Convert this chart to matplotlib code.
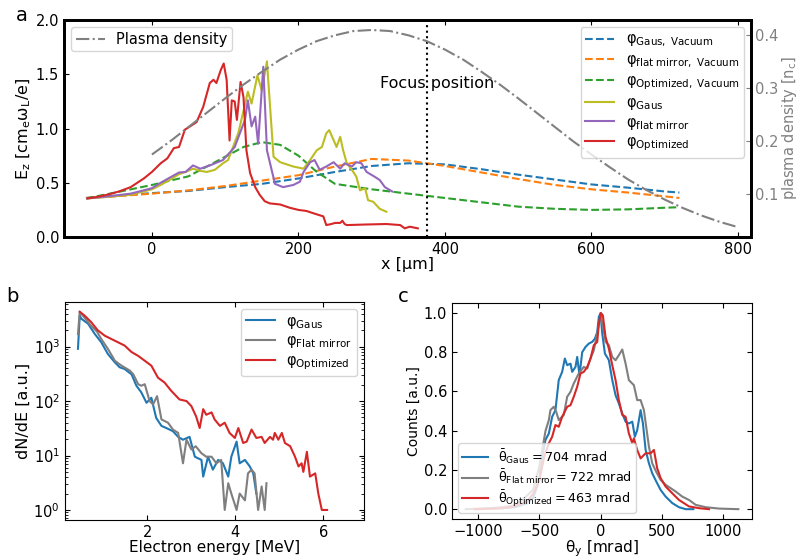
import numpy as np
import matplotlib.pyplot as plt

plt.rcParams['font.size'] = 10
plt.rcParams['mathtext.default'] = 'regular'

# ---------- panel a data ----------
dens_x = [0, 25, 50, 75, 100, 125, 150, 175, 200, 225, 250, 275, 300, 325, 350, 375, 400,
          425, 450, 475, 500, 525, 550, 575, 600, 625, 650, 675, 700, 725, 750, 775, 800]
dens_y = [0.175, 0.200, 0.227, 0.254, 0.281, 0.307, 0.331, 0.354, 0.373, 0.389, 0.400, 0.408, 0.410,
          0.408, 0.400, 0.389, 0.373, 0.354, 0.331, 0.307, 0.281, 0.254, 0.227, 0.200, 0.175,
          0.151, 0.128, 0.108, 0.090, 0.074, 0.060, 0.048, 0.038]

vac_x = [-90, -50, 0, 50, 100, 150, 200, 250, 300, 350, 400, 450, 500, 550, 600, 650, 700, 720]
gaus_vac = [0.36, 0.38, 0.405, 0.425, 0.46, 0.49, 0.54, 0.60, 0.655, 0.68, 0.67, 0.625, 0.575,
            0.53, 0.485, 0.455, 0.42, 0.41]
flat_vac = [0.36, 0.375, 0.40, 0.43, 0.47, 0.52, 0.57, 0.65, 0.72, 0.705, 0.655, 0.595, 0.535,
            0.48, 0.44, 0.41, 0.375, 0.36]
opt_vac_x = [-90, -50, 0, 50, 100, 125, 150, 175, 200, 225, 250, 300, 350, 400, 450, 500, 550,
             600, 650, 700, 720]
opt_vac = [0.356, 0.41, 0.48, 0.56, 0.74, 0.83, 0.875, 0.85, 0.75, 0.60, 0.49, 0.44, 0.40,
           0.36, 0.32, 0.28, 0.26, 0.25, 0.255, 0.27, 0.275]

gaus_x = [-88, -60, -29, 0, 12, 25, 37, 46, 56, 66, 75, 86, 97, 104, 118, 131, 136, 144, 150, 157,
          166, 175, 193, 207, 216, 225, 232, 238, 242, 248, 252, 257, 261, 266, 273, 279, 284,
          291, 295, 302, 311, 320]
gaus_y = [0.356, 0.37, 0.39, 0.44, 0.48, 0.53, 0.58, 0.60, 0.63, 0.61, 0.60, 0.62, 0.68, 0.71,
          0.96, 1.34, 1.23, 1.49, 1.35, 1.62, 0.74, 0.69, 0.65, 0.63, 0.71, 0.80, 0.83, 0.956,
          0.986, 0.894, 0.83, 0.924, 0.80, 0.68, 0.62, 0.556, 0.43, 0.45, 0.34, 0.325, 0.26, 0.233]

flat_x = [-88, -60, -29, 0, 12, 25, 37, 46, 56, 66, 79, 97, 113, 127, 131, 136, 141, 145, 152,
          157, 168, 179, 193, 202, 207, 216, 222, 229, 238, 248, 257, 263, 273, 279, 286, 293,
          304, 311, 318, 328]
flat_y = [0.356, 0.375, 0.40, 0.45, 0.50, 0.55, 0.595, 0.60, 0.66, 0.63, 0.66, 0.71, 0.83, 1.08,
          1.26, 1.02, 1.11, 0.86, 1.57, 0.80, 0.49, 0.46, 0.48, 0.51, 0.60, 0.69, 0.71, 0.62,
          0.65, 0.69, 0.63, 0.68, 0.65, 0.69, 0.68, 0.60, 0.556, 0.525, 0.46, 0.42]

opt_x = [-88, -75, -61, -45, -29, -11, 0, 12, 21, 30, 37, 45, 52, 61, 70, 79, 84, 88, 94, 98,
         102, 106, 109, 113, 116, 121, 125, 129, 134, 141, 147, 154, 161, 175, 188, 200, 211,
         220, 234, 238, 245, 250, 257, 260, 263, 266, 290, 320, 339, 345, 352, 363]
opt_y = [0.356, 0.37, 0.39, 0.42, 0.46, 0.54, 0.60, 0.68, 0.725, 0.82, 0.83, 0.99, 1.02, 1.06,
         1.20, 1.42, 1.45, 1.42, 1.54, 1.60, 1.45, 0.89, 1.26, 1.25, 1.08, 1.43, 1.29, 0.80,
         0.59, 0.46, 0.39, 0.33, 0.31, 0.30, 0.27, 0.25, 0.24, 0.22, 0.19, 0.11, 0.12, 0.13,
         0.13, 0.15, 0.12, 0.11, 0.115, 0.12, 0.11, 0.08, 0.095, 0.08]

focus_x = 375

# ---------- panel b data ----------
eb_gaus = [0.42, 0.46, 0.50, 0.65, 0.80, 0.95, 1.10, 1.26, 1.37, 1.48, 1.64, 1.75, 1.86, 1.98,
           2.09, 2.20, 2.32, 2.43, 2.58, 2.70, 2.81, 2.96, 3.08, 3.23, 3.27, 3.38, 3.49, 3.61,
           3.72, 3.84, 3.91, 4.03, 4.10, 4.22, 4.33, 4.41, 4.48]
dn_gaus = [912, 3715, 3236, 2630, 1718, 1202, 733, 513, 417, 389, 309, 191, 145, 93, 115, 49,
           35, 32, 28, 22, 19.5, 22, 9.5, 8.3, 4.1, 9.5, 5.5, 8.3, 7.2, 4.1, 9.5, 18, 7.2, 8.3,
           6.3, 4.7, 2.0]
eb_flat = [0.42, 0.46, 0.55, 0.70, 0.85, 0.95, 1.10, 1.26, 1.41, 1.60, 1.68, 1.79, 1.86, 1.94,
           2.05, 2.13, 2.22, 2.32, 2.47, 2.58, 2.70, 2.81, 2.89, 3.00, 3.10, 3.23, 3.34, 3.46,
           3.57, 3.68, 3.76, 3.84, 3.91, 4.03, 4.10, 4.22, 4.29, 4.37, 4.44, 4.52, 4.60, 4.67, 4.71]
dn_flat = [1700, 4365, 3550, 2510, 1900, 1380, 912, 550, 447, 363, 309, 204, 191, 204, 100, 87,
           123, 46, 40, 30, 26, 7.2, 19.5, 12.9, 14.8, 11, 9.5, 9.5, 7.2, 8.3, 1, 3.1, 2, 1, 2,
           1.5, 4.7, 5.5, 4.7, 1, 2.7, 1, 3.1]
eb_opt = [0.46, 0.57, 0.72, 0.87, 1.03, 1.18, 1.33, 1.48, 1.64, 1.79, 1.94, 2.09, 2.24, 2.39,
          2.54, 2.73, 2.89, 3.00, 3.11, 3.19, 3.27, 3.34, 3.46, 3.53, 3.65, 3.76, 3.87, 3.99,
          4.07, 4.18, 4.26, 4.37, 4.48, 4.60, 4.67, 4.79, 4.86, 4.90, 4.98, 5.06, 5.13, 5.25,
          5.36, 5.44, 5.51, 5.55, 5.63, 5.70, 5.82, 5.89, 5.97, 6.09]
dn_opt = [4365, 3715, 2820, 1995, 1585, 1380, 1202, 1047, 794, 676, 550, 447, 269, 219, 155,
          107, 100, 81, 52, 32, 71, 56, 62, 46, 35, 40, 26, 21, 32, 17, 18, 30, 21, 22, 17, 22,
          19.5, 26, 19.5, 26, 17, 14.8, 9.5, 6.3, 7.2, 5, 11.7, 4.1, 4.7, 2, 1, 1]

# ---------- panel c data ----------
th_gaus = [-1000, -800, -700, -600, -550, -500, -492, -451, -423, -396, -369, -342, -314, -292,
           -273, -246, -232, -205, -191, -172, -150, -123, -96, -68, -46, -27, -14, 0, 14, 36,
           68, 96, 123, 150, 178, 205, 232, 260, 281, 300, 328, 347, 369, 396, 423, 456, 492,
           533, 587, 642, 697, 760]
c_gaus = [0, 0.005, 0.01, 0.03, 0.06, 0.15, 0.217, 0.353, 0.386, 0.471, 0.505, 0.658, 0.70,
          0.768, 0.734, 0.742, 0.70, 0.725, 0.776, 0.683, 0.80, 0.827, 0.844, 0.853, 0.869,
          0.903, 0.98, 1.0, 0.895, 0.793, 0.76, 0.658, 0.581, 0.539, 0.488, 0.446, 0.437,
          0.446, 0.369, 0.403, 0.505, 0.437, 0.302, 0.234, 0.183, 0.141, 0.098, 0.064, 0.031,
          0.01, 0.0, 0.0]
th_flat = [-1104, -900, -800, -700, -650, -600, -550, -500, -450, -423, -410, -383, -363, -342,
           -301, -273, -246, -219, -178, -137, -109, -82, -55, -27, 0, 19, 41, 68, 96, 123,
           150, 178, 205, 232, 273, 300, 328, 355, 396, 423, 456, 492, 533, 574, 615, 669,
           724, 779, 861, 970, 1128]
c_flat = [0, 0.005, 0.01, 0.02, 0.04, 0.07, 0.10, 0.22, 0.40, 0.454, 0.505, 0.522, 0.497,
          0.454, 0.48, 0.573, 0.598, 0.641, 0.692, 0.725, 0.717, 0.768, 0.81, 0.895, 0.988,
          0.937, 0.853, 0.836, 0.776, 0.759, 0.785, 0.814, 0.742, 0.658, 0.632, 0.556, 0.556,
          0.505, 0.319, 0.234, 0.19, 0.149, 0.124, 0.107, 0.09, 0.064, 0.047, 0.022, 0.01,
          0.003, 0.0]
th_opt = [-1030, -800, -700, -600, -550, -500, -460, -423, -396, -369, -342, -314, -273, -246,
          -219, -191, -164, -137, -109, -82, -55, -27, -14, 3, 19, 41, 68, 96, 123, 150, 178,
          205, 232, 260, 273, 300, 328, 369, 410, 437, 464, 492, 533, 587, 642, 724, 806, 888]
c_opt = [0, 0.005, 0.015, 0.04, 0.08, 0.15, 0.27, 0.336, 0.369, 0.429, 0.42, 0.471, 0.522,
         0.53, 0.573, 0.624, 0.692, 0.70, 0.725, 0.768, 0.836, 0.853, 0.946, 1.0, 0.988, 0.878,
         0.819, 0.734, 0.658, 0.556, 0.48, 0.471, 0.386, 0.336, 0.361, 0.302, 0.259, 0.285,
         0.285, 0.302, 0.208, 0.158, 0.115, 0.081, 0.047, 0.014, 0.005, 0.0]

fig = plt.figure(figsize=(8, 5.59), dpi=100)

# ---------- panel a ----------
ax = fig.add_axes([0.08, 0.576, 0.859, 0.388])
l1, = ax.plot(vac_x, gaus_vac, '--', color='C0', lw=1.5, label=r'φ$_{Gaus,\ Vacuum}$')
l2, = ax.plot(vac_x, flat_vac, '--', color='C1', lw=1.5, label=r'φ$_{flat\ mirror,\ Vacuum}$')
l3, = ax.plot(opt_vac_x, opt_vac, '--', color='C2', lw=1.5, label=r'φ$_{Optimized,\ Vacuum}$')
l4, = ax.plot(gaus_x, gaus_y, color='#bcbd22', lw=1.5, label=r'φ$_{Gaus}$')
l5, = ax.plot(flat_x, flat_y, color='C4', lw=1.5, label=r'φ$_{flat\ mirror}$')
l6, = ax.plot(opt_x, opt_y, color='C3', lw=1.5, label=r'φ$_{Optimized}$')
ax.axvline(focus_x, color='k', ls=':', lw=1.5)
ax.text(311, 1.42, 'Focus position', fontsize=11.5, va='center')
ax.set_xlim(-120, 818)
ax.set_ylim(0, 2)
ax.set_xticks([0, 200, 400, 600, 800])
ax.set_yticks([0, 0.5, 1.0, 1.5, 2.0])
ax.set_xlabel('x [µm]', fontsize=11.5, labelpad=0)
ax.set_ylabel(r'E$_z$ [cm$_e$ω$_L$/e]', fontsize=11.5, labelpad=2)
ax.tick_params(direction='in', top=True, right=False, labelsize=10.5)
for s in ax.spines.values():
    s.set_linewidth(2)

ax2 = ax.twinx()
lp, = ax2.plot(dens_x, dens_y, '-.', color='0.5', lw=1.5, label='Plasma density')
ax2.set_ylabel(r'plasma density [n$_c$]', color='0.5', fontsize=10.5, labelpad=1)
ax2.set_yticks([0.1, 0.2, 0.3, 0.4])
ax2.tick_params(direction='in', colors='0.5', labelsize=10.5, pad=3)
for s in ax2.spines.values():
    s.set_linewidth(2)
leg1 = ax2.legend(handles=[lp], loc='upper left', fontsize=10.5, borderpad=0.3)
ax2.add_artist(leg1)
ax2.legend(handles=[l1, l2, l3, l4, l5, l6], loc='upper right', fontsize=10.5,
           labelspacing=0.2, borderpad=0.3)

# ---------- panel b ----------
axb = fig.add_axes([0.081, 0.070, 0.374, 0.390])
axb.plot(eb_gaus, dn_gaus, color='C0', lw=1.5, label=r'φ$_{Gaus}$')
axb.plot(eb_flat, dn_flat, color='C7', lw=1.5, label=r'φ$_{Flat\ mirror}$')
axb.plot(eb_opt, dn_opt, color='C3', lw=1.5, label=r'φ$_{Optimized}$')
axb.set_yscale('log')
axb.set_xlim(0.12, 6.93)
axb.set_xticks([2, 4, 6])
axb.set_xlabel('Electron energy [MeV]', fontsize=11, labelpad=0)
axb.set_ylabel('dN/dE [a.u.]', fontsize=11.5, labelpad=2)
axb.tick_params(which='both', direction='in', top=True, right=True, labelsize=10.5)
axb.legend(loc='upper right', fontsize=10.5, labelspacing=0.2, borderpad=0.3)

# ---------- panel c ----------
axc = fig.add_axes([0.565, 0.0716, 0.375, 0.386])
axc.plot(th_gaus, c_gaus, color='C0', lw=1.5, label=r'$\bar{θ}_{Gaus} = 704$ mrad')
axc.plot(th_flat, c_flat, color='C7', lw=1.5, label=r'$\bar{θ}_{Flat\ mirror} = 722$ mrad')
axc.plot(th_opt, c_opt, color='C3', lw=1.5, label=r'$\bar{θ}_{Optimized} = 463$ mrad')
axc.set_xticks([-1000, -500, 0, 500, 1000])
axc.set_xlabel(r'θ$_y$ [mrad]', fontsize=11, labelpad=0)
axc.set_ylabel('Counts [a.u.]', fontsize=10, labelpad=2)
axc.tick_params(direction='in', top=True, right=True, labelsize=10.5)
axc.legend(loc='lower left', fontsize=9.2, labelspacing=0.15, borderpad=0.3)

fig.text(0.0275, 0.973, 'a', fontsize=14, ha='center', va='center')
fig.text(0.016, 0.47, 'b', fontsize=14, ha='center', va='center')
fig.text(0.504, 0.469, 'c', fontsize=14, ha='center', va='center')

fig.savefig('out.png', dpi=100)
